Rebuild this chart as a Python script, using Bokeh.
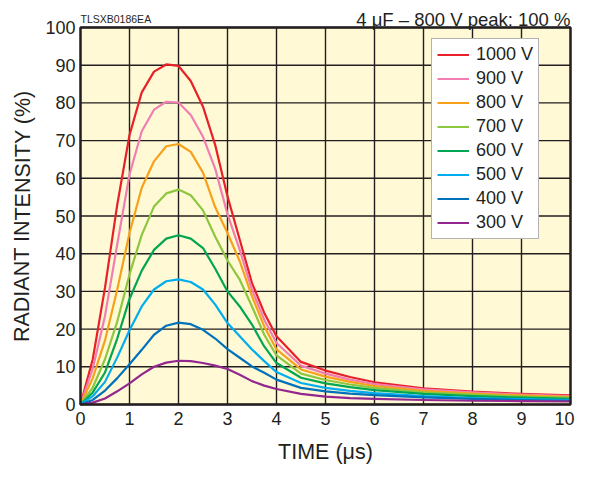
from bokeh.plotting import figure
from bokeh.models import Range1d, Legend, LegendItem, Label
from bokeh.core.properties import value
from bokeh.embed import file_html
from bokeh.resources import INLINE

time_us = [0, 0.25, 0.5, 0.75, 1.0, 1.25, 1.5, 1.75, 2.0, 2.25, 2.5, 2.75, 3.0,
           3.25, 3.5, 3.75, 4.0, 4.5, 5, 5.5, 6, 7, 8, 9, 10]

v1000 = [0, 12, 31, 53, 71.5, 82.8, 88.3, 90.2, 89.8, 85.8, 79.0, 68.8, 55.2,
         43.7, 32.2, 24.3, 18.1, 11.3, 9.0, 7.3, 5.9, 4.3, 3.4, 2.8, 2.4]
v900 = [0, 9.5, 23.5, 42.5, 61, 72.5, 78.2, 80.3, 80.1, 76.8, 71.0, 62.5, 50.5,
        41.0, 30.4, 22.5, 16.3, 10.3, 8.2, 6.6, 5.4, 4.0, 3.2, 2.6, 2.2]
v800 = [0, 7, 17, 30.5, 45.5, 57.5, 64.5, 68.5, 69.1, 67, 61.5, 52.3, 45.5,
        38.0, 28.7, 20.7, 14.6, 9.3, 7.4, 6.0, 4.9, 3.6, 2.9, 2.4, 2.0]
v700 = [0, 4.5, 12, 22, 34.5, 45, 52.5, 56, 57, 55.5, 51.5, 44.5, 38.2,
        33.1, 26.0, 18.5, 13.0, 8.2, 6.5, 5.3, 4.4, 3.2, 2.6, 2.1, 1.8]
v600 = [0, 3.2, 8.5, 17.5, 28, 35.5, 41, 44, 44.9, 44, 41.5, 36, 30.0,
        26.0, 21.2, 15.4, 11.0, 7.1, 5.6, 4.6, 3.8, 2.8, 2.2, 1.8, 1.5]
v500 = [0, 2.2, 6, 12.5, 19.7, 26, 30.5, 32.7, 33.2, 32.5, 30.5, 26.5, 21.6,
        18.1, 14.6, 11.5, 8.6, 5.7, 4.4, 3.6, 3.0, 2.2, 1.7, 1.4, 1.2]
v400 = [0, 1.2, 3.7, 7, 10.7, 14.5, 18.5, 20.9, 21.7, 21.3, 19.8, 17.5, 14.7,
        12.4, 10.1, 8.4, 6.6, 4.4, 3.5, 2.9, 2.5, 1.9, 1.5, 1.2, 1.0]
v300 = [0, 0.5, 1.6, 3.5, 5.6, 8.0, 10.0, 11.1, 11.6, 11.5, 11.0, 10.3, 9.4,
        7.9, 6.2, 5.0, 4.1, 2.8, 2.1, 1.7, 1.5, 1.2, 1.0, 0.9, 0.8]

series_labels = ["1000 V", "900 V", "800 V", "700 V", "600 V", "500 V", "400 V", "300 V"]
series_values = [v1000, v900, v800, v700, v600, v500, v400, v300]
series_colors = ["#E8202A", "#F27DB2", "#F7A11A", "#8DC63F", "#00A651", "#00AEEF", "#0072BC", "#92278F"]

x_ticks = list(range(0, 11))
y_ticks = list(range(0, 101, 10))
x_tick_labels = [str(t) for t in x_ticks]
y_tick_labels = [str(t) for t in y_ticks]
x_min, x_max = 0, 10
y_min, y_max = 0, 100

FONT = "Liberation Sans"
INK = "#231F20"
PANEL = "#FFF9D5"

W, H = 577, 465
# plot area in canvas pixels: x 80..570, y 27..404
PX_X = 49.0
PX_Y = 3.77
p = figure(width=W, height=H, output_backend="svg", toolbar_location=None,
           x_axis_location=None, y_axis_location=None,
           x_range=Range1d(x_min - 80 / PX_X, x_max + (W - 570) / PX_X),
           y_range=Range1d(y_min - (H - 404) / PX_Y, y_max + 27 / PX_Y),
           min_border_left=0, min_border_right=0, min_border_top=0, min_border_bottom=0)

p.background_fill_color = "white"
p.border_fill_color = "white"
p.outline_line_color = None
p.grid.visible = False

# panel, grid
p.quad(left=[x_min], right=[x_max], bottom=[y_min], top=[y_max],
       fill_color=PANEL, line_color=None)
p.segment(x0=x_ticks, y0=[y_min] * len(x_ticks), x1=x_ticks, y1=[y_max] * len(x_ticks),
          line_color=INK, line_width=1.4)
p.segment(x0=[x_min] * len(y_ticks), y0=y_ticks, x1=[x_max] * len(y_ticks), y1=y_ticks,
          line_color=INK, line_width=1.4)

items = []
for lab, vals, col in zip(series_labels, series_values, series_colors):
    r = p.line(time_us, vals, line_color=col, line_width=2.2, line_join="round")
    items.append(LegendItem(label=lab, renderers=[r]))

p.quad(left=[x_min], right=[x_max], bottom=[y_min], top=[y_max],
       fill_color=None, line_color=INK, line_width=2.4)

# tick labels
p.text(x=x_ticks[:-1], y=[y_min] * (len(x_ticks) - 1), text=x_tick_labels[:-1],
       text_font=value(FONT), text_font_size="18px", text_color=INK,
       text_align="center", text_baseline="middle", y_offset=14)
p.text(x=x_ticks[-1:], y=[y_min], text=x_tick_labels[-1:],
       text_font=value(FONT), text_font_size="18px", text_color=INK,
       text_align="center", text_baseline="middle", y_offset=14, x_offset=-6)
p.text(x=[x_min] * len(y_ticks), y=y_ticks, text=y_tick_labels, text_font=value(FONT),
       text_font_size="18px", text_color=INK, text_align="right", text_baseline="middle",
       x_offset=-5)

# axis titles
p.add_layout(Label(x=x_min - 58 / PX_X, y=50, text="RADIANT INTENSITY (%)", text_font=FONT,
                   text_font_size="21.5px", text_color=INK, text_align="center",
                   text_baseline="middle", angle=1.5707963))
p.add_layout(Label(x=5, y=y_min - 47 / PX_Y, text="TIME (μs)", text_font=FONT,
                   text_font_size="21.5px", text_color=INK, text_align="center",
                   text_baseline="middle"))

legend = Legend(items=items, location=(431, 226))
legend.background_fill_color = "white"
legend.background_fill_alpha = 1.0
legend.border_line_color = "#666666"
legend.border_line_width = 1
legend.label_text_font = FONT
legend.label_text_font_size = "18px"
legend.label_text_color = INK
legend.glyph_width = 32
legend.glyph_height = 21
legend.label_height = 21
legend.spacing = 3
legend.padding = 5
legend.margin = 0
legend.label_standoff = 7
p.add_layout(legend, "center")

p.add_layout(Label(x=x_min, y=102.3, text="TLSXB0186EA", text_font=FONT, text_font_size="10.5px",
                   text_color=INK, text_align="left", text_baseline="alphabetic"))
p.add_layout(Label(x=x_max, y=102.0, text="4 μF – 800 V peak: 100 %", text_font=FONT,
                   text_font_size="18.5px", text_color=INK, text_align="right",
                   text_baseline="alphabetic"))

open("out.html", "w").write(file_html(p, INLINE))
